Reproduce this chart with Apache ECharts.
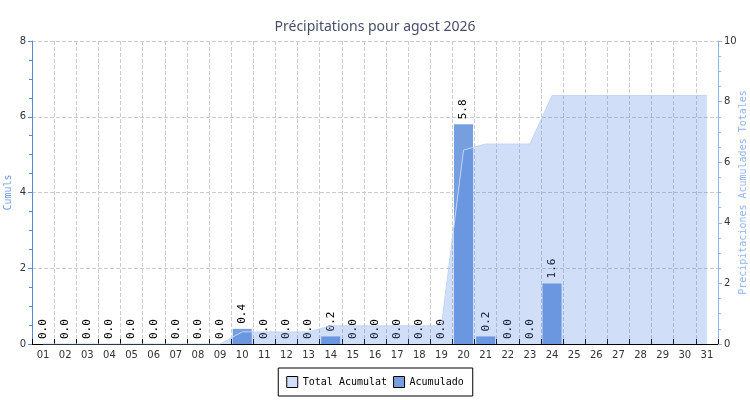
<!DOCTYPE html>
<html>
<head>
<meta charset="utf-8">
<script src="https://cdn.jsdelivr.net/npm/echarts@6/dist/echarts.min.js"></script>
<style>
html,body{margin:0;padding:0;background:#fff;}
#chart{width:750px;height:400px;}
</style>
</head>
<body>
<div id="chart"></div>
<script>
// jours du mois
var days = ['01','02','03','04','05','06','07','08','09','10','11','12','13','14','15','16',
            '17','18','19','20','21','22','23','24','25','26','27','28','29','30','31'];
// précipitation journalière (mm), '-' = pas de donnée
var daily = [0,0,0,0,0,0,0,0,0,0.4,0,0,0,0.2,0,0,0,0,0,5.8,0.2,0,0,1.6,'-','-','-','-','-','-','-'];
// cumul total
var total = [0,0,0,0,0,0,0,0,0,0.4,0.4,0.4,0.4,0.6,0.6,0.6,0.6,0.6,0.6,6.4,6.6,6.6,6.6,8.2,8.2,8.2,8.2,8.2,8.2,8.2,8.2];

var mono = 'DejaVu Sans Mono';
var sans = 'DejaVu Sans';

var myChart = echarts.init(document.getElementById('chart'));
var option = {
    animation: false,
    title: {
        text: 'Précipitations pour agost 2026',
        left: 'center',
        top: 15,
        textStyle: { fontFamily: 'Noto Sans', fontSize: 14, fontWeight: 'normal', color: '#464e68' }
    },
    legend: {
        bottom: 4,
        left: 'center',
        padding: [8, 9, 8, 8],
        borderColor: '#000',
        borderWidth: 1,
        itemWidth: 11,
        itemHeight: 11,
        itemGap: 6,
        textStyle: { fontFamily: mono, fontSize: 10, color: '#000' },
        data: [
            { name: 'Total Acumulat', icon: 'rect', itemStyle: { color: '#d1dff8', borderColor: '#000', borderWidth: 1 } },
            { name: 'Acumulado', icon: 'rect', itemStyle: { color: '#779fe0', borderColor: '#000', borderWidth: 1 } }
        ]
    },
    grid: { left: 32, right: 32, top: 41, bottom: 56, outerBoundsMode: 'none', containLabel: false },
    xAxis: {
        type: 'category',
        data: days,
        boundaryGap: true,
        axisLine: { lineStyle: { color: '#000', width: 1 } },
        axisTick: { show: true, inside: true, length: 5, lineStyle: { color: '#000' } },
        axisLabel: { fontFamily: sans, fontSize: 10, color: '#333', margin: 6 },
        splitLine: { show: true, lineStyle: { color: '#ccc', type: 'dashed' } }
    },
    yAxis: [
        {
            type: 'value',
            min: 0, max: 8, interval: 2,
            name: 'Cumuls',
            nameLocation: 'middle',
            nameRotate: 90,
            nameGap: 19,
            nameMoveOverlap: false,
            nameTextStyle: { fontFamily: mono, fontSize: 10, color: '#6d9be8' },
            axisLine: { show: true, lineStyle: { color: '#5b87d6' } },
            axisTick: { show: true, length: 4, lineStyle: { color: '#5b87d6' } },
            minorTick: { show: true, splitNumber: 4, length: 3, lineStyle: { color: '#5b87d6' } },
            axisLabel: { fontFamily: sans, fontSize: 10, color: '#333', margin: 6 },
            splitLine: { show: true, lineStyle: { color: '#ccc', type: 'dashed' } }
        },
        {
            type: 'value',
            min: 0, max: 10, interval: 2,
            name: 'Precipitaciones Acumulades Totales',
            nameLocation: 'middle',
            nameRotate: 90,
            nameGap: 20,
            nameMoveOverlap: false,
            nameTextStyle: { fontFamily: mono, fontSize: 10, color: '#8fb4f4' },
            axisLine: { show: true, lineStyle: { color: '#8cb4f7' } },
            axisTick: { show: true, length: 4, lineStyle: { color: '#8cb4f7' } },
            minorTick: { show: true, splitNumber: 4, length: 3, lineStyle: { color: '#8cb4f7' } },
            axisLabel: { fontFamily: sans, fontSize: 10, color: '#333', margin: 6 },
            splitLine: { show: false }
        }
    ],
    series: [
        {
            name: 'Acumulado',
            type: 'bar',
            yAxisIndex: 0,
            data: daily,
            barWidth: '86%',
            z: 2,
            itemStyle: { color: '#779fe0' },
            label: {
                show: true,
                position: 'top',
                rotate: 90,
                align: 'left',
                verticalAlign: 'middle',
                distance: 5,
                fontFamily: mono,
                fontSize: 11,
                color: '#000',
                formatter: function (p) { return p.value.toFixed(1); }
            }
        },
        {
            name: 'Total Acumulat',
            type: 'line',
            yAxisIndex: 1,
            data: total,
            z: 3,
            symbol: 'none',
            lineStyle: { color: '#c3d5f5', width: 1 },
            itemStyle: { color: '#d1dff8' },
            areaStyle: { color: 'rgba(70,125,225,0.25)', opacity: 1 }
        }
    ]
};
myChart.setOption(option);
</script>
</body>
</html>
